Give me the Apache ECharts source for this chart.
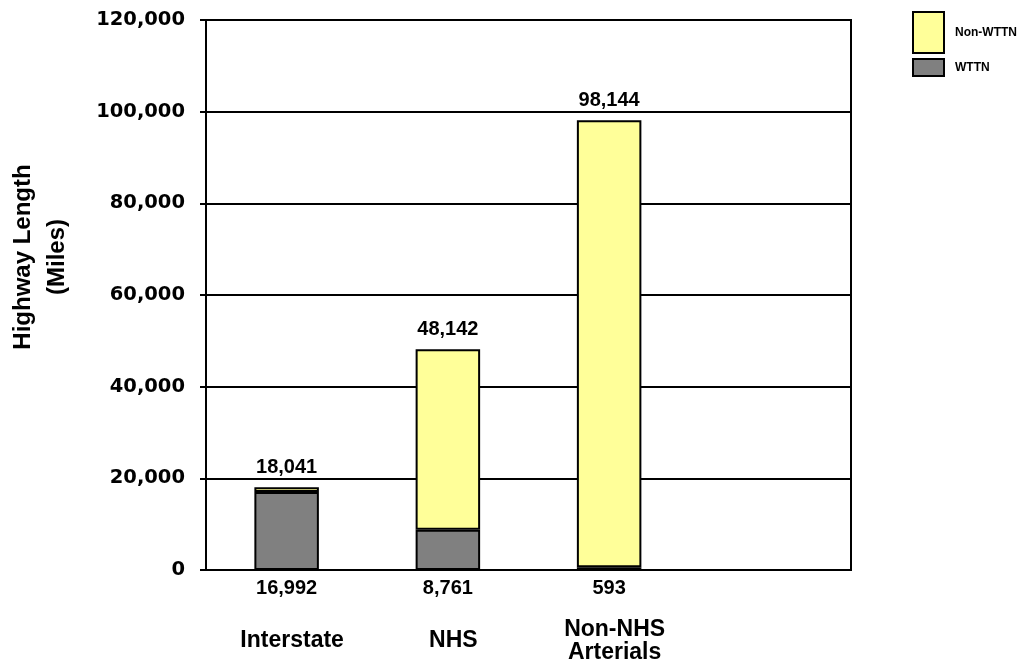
<!DOCTYPE html>
<html>
<head>
<meta charset="utf-8">
<title>Highway Length by System</title>
<script src="https://cdn.jsdelivr.net/npm/echarts@6/dist/echarts.min.js"></script>
<style>
  html, body { margin: 0; padding: 0; background: #fff; }
  #chart { width: 1023px; height: 664px; }
</style>
</head>
<body>
<div id="chart"></div>
<script>
// Highway system categories (last slot left empty)
const categories = ['Interstate', 'NHS', 'Non-NHS\nArterials', ''];
// Miles on the WTTN network
const wttn = [16992, 8761, 593, null];
// Miles not on the WTTN network
const nonWttn = [1049, 39381, 97551, null];
// Value-axis ticks
const yTicks = [0, 20000, 40000, 60000, 80000, 100000, 120000];

const fmt = v => v.toLocaleString('en-US');
const AR = 'Liberation Sans, Arial, sans-serif';

const chart = echarts.init(document.getElementById('chart'));
chart.setOption({
  animation: false,
  backgroundColor: '#fff',
  grid: {
    left: 206, right: 172, top: 20, bottom: 94,
    outerBoundsMode: 'none', containLabel: false,
    show: true, borderColor: '#000', borderWidth: 2, backgroundColor: 'transparent'
  },
  legend: [
    {
      data: ['Non-WTTN'], left: 912, top: 11, padding: 0,
      icon: 'rect', itemWidth: 31, itemHeight: 41,
      itemStyle: { borderColor: '#000', borderWidth: 2 },
      textStyle: { fontFamily: AR, fontWeight: 'bold', fontSize: 12, color: '#000', padding: [0, 0, 0, 6] },
      selectedMode: false
    },
    {
      data: ['WTTN'], left: 912, top: 58, padding: 0,
      icon: 'rect', itemWidth: 31, itemHeight: 17,
      itemStyle: { borderColor: '#000', borderWidth: 2 },
      textStyle: { fontFamily: AR, fontWeight: 'bold', fontSize: 12, color: '#000', padding: [0, 0, 0, 6] },
      selectedMode: false
    }
  ],
  xAxis: {
    type: 'category',
    data: categories,
    axisLine: { lineStyle: { color: '#000', width: 2 } },
    axisTick: { show: false },
    axisLabel: {
      interval: 0, margin: 71, verticalAlign: 'middle', lineHeight: 23,
      padding: [0, 0, 0, 11],
      fontFamily: AR, fontWeight: 'bold', fontSize: 23, color: '#000'
    }
  },
  yAxis: {
    type: 'value',
    min: yTicks[0], max: yTicks[yTicks.length - 1], interval: yTicks[1] - yTicks[0],
    name: 'Highway Length\n(Miles)',
    nameLocation: 'middle', nameRotate: 90, nameGap: 132,
    nameTextStyle: {
      fontFamily: AR, fontWeight: 'bold', fontSize: 24, lineHeight: 34, color: '#000',
      padding: [0, 0, 0, 76]
    },
    axisLine: { show: true, lineStyle: { color: '#000', width: 2 } },
    axisTick: { show: true, length: 6, lineStyle: { color: '#000', width: 2 } },
    axisLabel: {
      margin: 21, formatter: v => fmt(v),
      fontFamily: 'DejaVu Sans, sans-serif', fontWeight: 'bold', fontSize: 19.5, color: '#000'
    },
    splitLine: { lineStyle: { color: '#000', width: 2 } }
  },
  series: [
    {
      name: 'WTTN', type: 'bar', stack: 'len', data: wttn, barWidth: '40%',
      itemStyle: { color: '#808080', borderColor: '#000', borderWidth: 2 },
      label: {
        show: true, position: 'bottom', distance: 8,
        formatter: p => fmt(p.value),
        fontFamily: AR, fontWeight: 'bold', fontSize: 20, color: '#000'
      }
    },
    {
      name: 'Non-WTTN', type: 'bar', stack: 'len', data: nonWttn, barWidth: '40%',
      itemStyle: { color: '#FFFF99', borderColor: '#000', borderWidth: 2 },
      label: {
        show: true, position: 'top', distance: 10,
        formatter: p => fmt(wttn[p.dataIndex] + nonWttn[p.dataIndex]),
        fontFamily: AR, fontWeight: 'bold', fontSize: 20, color: '#000'
      }
    }
  ]
});
</script>
</body>
</html>
